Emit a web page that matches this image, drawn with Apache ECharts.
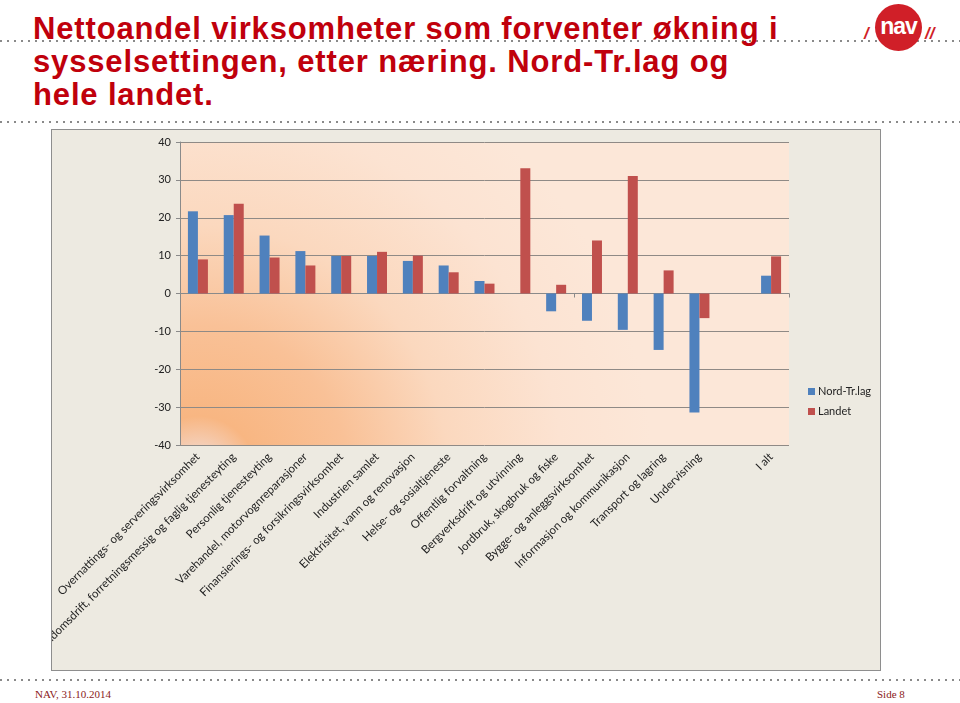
<!DOCTYPE html>
<html>
<head>
<meta charset="utf-8">
<script src="https://cdn.jsdelivr.net/npm/echarts@6/dist/echarts.min.js"></script>
<style>
  html, body { margin: 0; padding: 0; background: #fff; }
  body { width: 960px; height: 703px; position: relative; overflow: hidden; }
  .dots { position: absolute; left: 0; width: 960px; height: 2px;
    background: repeating-linear-gradient(to right, #8a8a8a 0 2px, transparent 2px 7px); }
  .title { position: absolute; left: 33px; top: 12px; font-family: "Liberation Sans", Arial, sans-serif;
    font-weight: bold; font-size: 31px; line-height: 33px; letter-spacing: 0.85px; color: #c0000c; white-space: nowrap; }
  .logo { position: absolute; left: 875px; top: 4px; width: 47px; height: 47px; border-radius: 50%;
    background: #d01f28; color: #fff; font: bold 23px "Liberation Sans", Arial, sans-serif;
    text-align: center; line-height: 44px; letter-spacing: -1px; }
  .slash { position: absolute; top: 24px; color: #d01f28; font: italic bold 17px "Liberation Sans", Arial, sans-serif; }
  .foot { position: absolute; top: 688px; font-family: "Liberation Serif", "Times New Roman", serif;
    font-size: 11px; color: #8b1a1a; }
  #chart { position: absolute; left: 51px; top: 129px; width: 828px; height: 540px;
    border: 1px solid #8e8e8e; background: #edeae1; overflow: hidden; }
</style>
</head>
<body>
<div class="dots" style="top:40px"></div>
<div class="dots" style="top:121px"></div>
<div class="dots" style="top:679px"></div>
<div class="title">Nettoandel virksomheter som forventer økning i<br>sysselsettingen, etter næring. Nord-Tr.lag og<br>hele landet.</div>
<span class="slash" style="left:864px">/</span>
<div class="logo">nav</div>
<span class="slash" style="left:925px">//</span>
<div class="foot" style="left:35px">NAV, 31.10.2014</div>
<div class="foot" style="left:877px">Side 8</div>
<div id="chart"></div>

<script>
// kategorier (næringer)
const categories = [
  "Overnattings- og serveringsvirksomhet",
  "Eiendomsdrift, forretningsmessig og faglig tjenesteyting",
  "Personlig tjenesteyting",
  "Varehandel, motorvognreparasjoner",
  "Finansierings- og forsikringsvirksomhet",
  "Industrien samlet",
  "Elektrisitet, vann og renovasjon",
  "Helse- og sosialtjeneste",
  "Offentlig forvaltning",
  "Bergverksdrift og utvinning",
  "Jordbruk, skogbruk og fiske",
  "Bygge- og anleggsvirksomhet",
  "Informasjon og kommunikasjon",
  "Transport og lagring",
  "Undervisning",
  "",
  "I alt"
];
const nordTrlag = [21.7, 20.7, 15.3, 11.2, 9.9, 9.9, 8.6, 7.4, 3.3, null, -4.7, -7.2, -9.6, -14.9, -31.4, null, 4.7];
const landet = [9.0, 23.7, 9.5, 7.4, 9.9, 11.0, 10.0, 5.6, 2.6, 33.1, 2.3, 14.0, 31.0, 6.1, -6.5, null, 9.8];
const yMin = -40, yMax = 40, yStep = 10;

const labelFont = "Lato, 'Open Sans', sans-serif";
const chart = echarts.init(document.getElementById("chart"));
chart.setOption({
  animation: false,
  legend: {
    orient: "vertical",
    left: 751,
    top: 251,
    itemWidth: 7,
    itemHeight: 7,
    itemGap: 9,
    icon: "rect",
    textStyle: { fontFamily: labelFont, fontSize: 11, color: "#222", padding: [0, 0, 0, -2] },
    data: ["Nord-Tr.lag", "Landet"]
  },
  grid: {
    left: 128, top: 12, width: 609, height: 303,
    outerBoundsMode: "none",
    containLabel: false,
    show: true,
    borderWidth: 0,
    backgroundColor: new echarts.graphic.RadialGradient(0.03, 1.1, 1.5, [
      { offset: 0, color: "#e0e2ee" },
      { offset: 0.04, color: "#f3d8cc" },
      { offset: 0.13, color: "#f8b682" },
      { offset: 0.33, color: "#f9c197" },
      { offset: 0.55, color: "#fbd8be" },
      { offset: 0.8, color: "#fce3d2" },
      { offset: 1, color: "#fce7d8" }
    ])
  },
  xAxis: [
    {
      type: "category",
      data: categories,
      position: "bottom",
      axisLine: { show: false, onZero: false },
      axisTick: { show: false },
      axisLabel: {
        interval: 0, rotate: 45, margin: 10,
        fontFamily: labelFont, fontSize: 11.5, color: "#222"
      }
    },
    {
      type: "category",
      data: categories,
      position: "top",
      axisLine: { show: true, onZero: true, lineStyle: { color: "#8a8a8a", width: 1 } },
      axisTick: { show: true, inside: true, length: 4, lineStyle: { color: "#8a8a8a" } },
      axisLabel: { show: false }
    }
  ],
  yAxis: {
    type: "value",
    min: yMin, max: yMax, interval: yStep,
    axisLine: { show: true, lineStyle: { color: "#8a8a8a" } },
    axisTick: { show: true, length: 4, lineStyle: { color: "#8a8a8a" } },
    axisLabel: { fontFamily: labelFont, fontSize: 11, color: "#222", margin: 9 },
    splitLine: { show: true, lineStyle: { color: "#8f8a86", width: 1 } }
  },
  series: [
    {
      name: "Nord-Tr.lag", type: "bar", xAxisIndex: 0,
      data: nordTrlag, barWidth: 10, barGap: "0%",
      itemStyle: { color: "#4f81bd" }
    },
    {
      name: "Landet", type: "bar", xAxisIndex: 0,
      data: landet, barWidth: 10, barGap: "0%",
      itemStyle: { color: "#c0504d" }
    }
  ]
});
</script>
</body>
</html>
